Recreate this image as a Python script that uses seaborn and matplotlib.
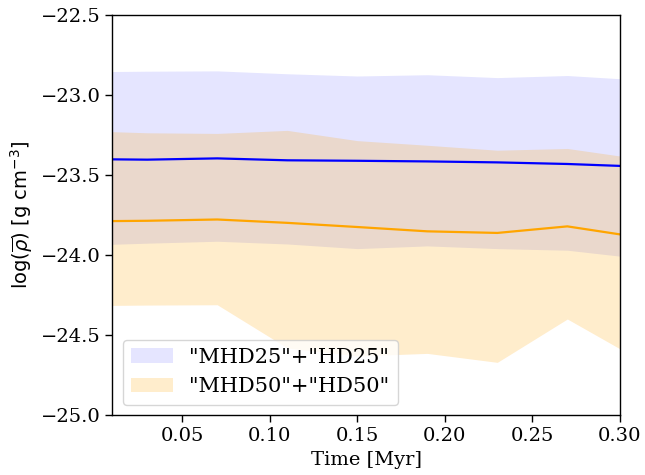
import numpy as np
import pandas as pd
import matplotlib
matplotlib.use("Agg")
import matplotlib.pyplot as plt
import seaborn as sns

time = [0.01, 0.03, 0.07, 0.11, 0.15, 0.19, 0.23, 0.27, 0.30]
mean25 = [-23.401, -23.403, -23.395, -23.407, -23.410, -23.414, -23.420, -23.430, -23.442]
upper25 = [-22.852, -22.850, -22.848, -22.866, -22.880, -22.872, -22.890, -22.877, -22.897]
lower25 = [-23.932, -23.925, -23.913, -23.930, -23.959, -23.942, -23.959, -23.969, -24.006]
mean50 = [-23.787, -23.785, -23.777, -23.798, -23.824, -23.851, -23.861, -23.820, -23.870]
upper50 = [-23.228, -23.235, -23.239, -23.220, -23.284, -23.313, -23.344, -23.333, -23.380]
lower50 = [-24.314, -24.312, -24.310, -24.580, -24.630, -24.614, -24.670, -24.399, -24.585]
labels = ['"MHD25"+"HD25"', '"MHD50"+"HD50"']

sns.set_style("ticks")
plt.rcParams['font.family'] = ['DejaVu Serif']
plt.rcParams['mathtext.fontset'] = 'dejavusans'
plt.rcParams['text.color'] = 'black'
plt.rcParams['axes.labelcolor'] = 'black'
plt.rcParams['xtick.color'] = 'black'
plt.rcParams['ytick.color'] = 'black'

df = pd.DataFrame({"t": time, "m25": mean25, "m50": mean50})

fig = plt.figure(figsize=(6.45, 4.75), dpi=100)
ax = fig.add_axes([0.174, 0.126, 0.787, 0.842])

ax.fill_between(time, lower25, upper25, color="blue", alpha=0.1, linewidth=0, label=labels[0])
ax.fill_between(time, lower50, upper50, color="orange", alpha=0.2, linewidth=0, label=labels[1])
sns.lineplot(data=df, x="t", y="m25", color="blue", ax=ax, linewidth=1.6)
sns.lineplot(data=df, x="t", y="m50", color="orange", ax=ax, linewidth=1.6)

ax.set_xlim(0.01, 0.30)
ax.set_ylim(-25.0, -22.5)
ax.set_xticks([0.05, 0.10, 0.15, 0.20, 0.25, 0.30])
ax.set_xticklabels(["0.05", "0.10", "0.15", "0.20", "0.25", "0.30"])
ax.set_yticks([-25.0, -24.5, -24.0, -23.5, -23.0, -22.5])
ax.set_yticklabels(["\u221225.0", "\u221224.5", "\u221224.0", "\u221223.5", "\u221223.0", "\u221222.5"])
ax.tick_params(labelsize=14, length=5, width=1, color="black", labelcolor="black")
for s in ax.spines.values():
    s.set_color("black")
    s.set_linewidth(1)

ax.set_xlabel("Time [Myr]", fontsize=14, color="black")
ax.set_ylabel(r"log($\overline{\rho}$) [g cm$^{-3}$]", fontsize=14, family="DejaVu Sans", color="black")

leg = ax.legend(loc="lower left", fontsize=15, framealpha=0.8)
for t in leg.get_texts():
    t.set_color("black")

fig.savefig("out.png", dpi=100)
